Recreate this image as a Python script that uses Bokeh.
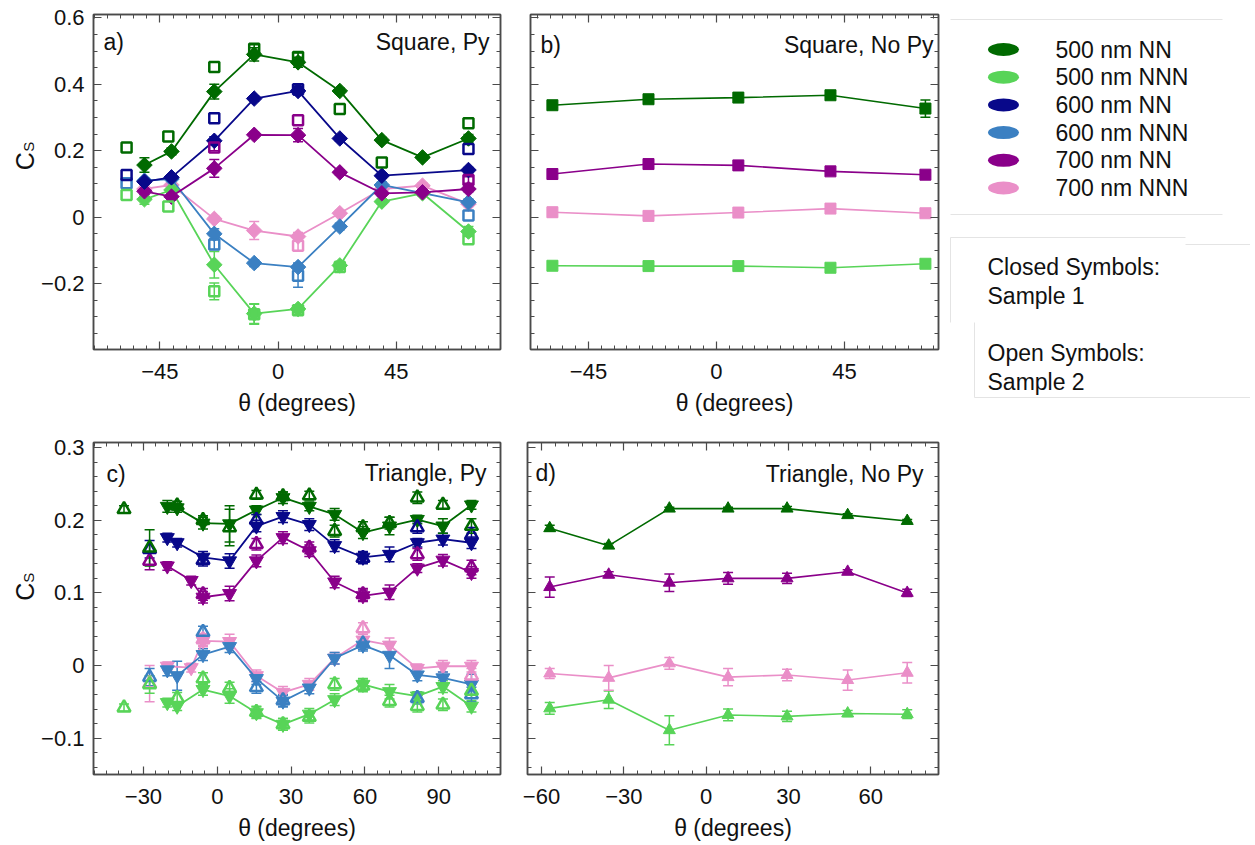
import numpy as np
from bokeh.plotting import figure
from bokeh.models import Range1d, FixedTicker, LinearAxis, Whisker, TeeHead, ColumnDataSource, Label
from bokeh.layouts import row, column
from bokeh.embed import file_html
from bokeh.resources import INLINE
from bokeh.core.properties import value

nan = float("nan")
FONT = "Liberation Sans"
AX = "#4a4a4a"
TXT = "#111111"

# ---------------- colours / legend ----------------
series_names = ["500 nm NN", "500 nm NNN", "600 nm NN", "600 nm NNN", "700 nm NN", "700 nm NNN"]
series_colors = ["#006a00", "#58d458", "#08088a", "#3b80c2", "#8a008a", "#ea8fc8"]
C500NN, C500NNN, C600NN, C600NNN, C700NN, C700NNN = series_colors

# ---------------- panel a : Square, Py ----------------
a_theta_s1 = [-50.9, -40.6, -24.3, -9.1, 7.6, 23.5, 39.5, 55.0, 72.5]
a_theta_s2 = [-57.7, -41.8, -24.3, -9.1, 7.6, 23.5, 39.5, 55.0, 72.5]
a_s1_500NN = [0.157, 0.198, 0.378, 0.490, 0.466, 0.380, 0.232, 0.180, 0.237]
a_s1_500NN_err = [0.022, 0.010, 0.022, 0.020, 0.015, 0.008, 0.008, 0.008, 0.012]
a_s1_500NNN = [0.054, 0.082, -0.143, -0.290, -0.276, -0.145, 0.047, 0.072, -0.043]
a_s1_500NNN_err = [0.015, 0.010, 0.040, 0.030, 0.010, 0.012, 0.008, 0.008, 0.015]
a_s1_600NN = [0.107, 0.120, 0.230, 0.357, 0.380, 0.237, 0.125, nan, 0.142]
a_s1_600NN_err = [0.008, 0.008, 0.012, 0.008, 0.012, 0.008, 0.008, nan, 0.008]
a_s1_600NNN = [0.110, 0.115, -0.050, -0.138, -0.150, -0.028, 0.097, nan, 0.045]
a_s1_600NNN_err = [0.008, 0.008, 0.015, 0.010, 0.012, 0.010, 0.010, nan, 0.010]
a_s1_700NN = [0.078, 0.062, 0.147, 0.248, 0.247, 0.135, 0.072, 0.075, 0.085]
a_s1_700NN_err = [0.010, 0.010, 0.027, 0.008, 0.020, 0.008, 0.008, 0.008, 0.008]
a_s1_700NNN = [0.085, 0.097, -0.005, -0.040, -0.058, 0.012, 0.085, 0.095, 0.040]
a_s1_700NNN_err = [0.008, 0.008, 0.008, 0.027, 0.012, 0.008, 0.008, 0.008, 0.008]

a_s2_500NN = [0.210, 0.243, 0.452, 0.507, 0.482, 0.326, 0.165, nan, 0.283]
a_s2_500NN_err = [nan, nan, nan, 0.012, 0.012, nan, nan, nan, nan]
a_s2_500NNN = [0.067, 0.032, -0.223, -0.292, -0.280, -0.150, nan, nan, -0.066]
a_s2_500NNN_err = [nan, nan, 0.025, 0.030, nan, nan, nan, nan, nan]
a_s2_600NN = [0.127, nan, 0.298, nan, 0.385, nan, nan, nan, 0.205]
a_s2_600NN_err = [nan, nan, nan, nan, 0.010, nan, nan, nan, nan]
a_s2_600NNN = [0.102, nan, -0.082, nan, -0.176, nan, nan, nan, 0.005]
a_s2_600NNN_err = [nan, nan, 0.015, nan, 0.035, nan, nan, nan, nan]
a_s2_700NN = [nan, nan, 0.210, nan, 0.292, nan, nan, nan, 0.112]
a_s2_700NN_err = [nan, nan, 0.010, nan, nan, nan, nan, nan, 0.010]
a_s2_700NNN = [nan, nan, nan, nan, -0.086, nan, nan, nan, nan]
a_s2_700NNN_err = [nan, nan, nan, nan, 0.015, nan, nan, nan, nan]

# ---------------- panel b : Square, No Py ----------------
b_theta = [-57.7, -23.9, 7.7, 40.1, 73.5]
b_500NN = [0.337, 0.355, 0.360, 0.367, 0.327]
b_500NN_err = [0.006, 0.012, 0.007, 0.006, 0.026]
b_700NN = [0.130, 0.160, 0.156, 0.138, 0.128]
b_700NN_err = [0.014, 0.012, 0.007, 0.008, 0.006]
b_700NNN = [0.015, 0.004, 0.014, 0.026, 0.012]
b_700NNN_err = [0.014, 0.008, 0.010, 0.010, 0.006]
b_500NNN = [-0.146, -0.147, -0.147, -0.152, -0.140]
b_500NNN_err = [0.006, 0.006, 0.006, 0.008, 0.012]

# ---------------- panel c : Triangle, Py ----------------
c_theta_s1 = [-20.3, -16.3, -5.8, 5.0, 15.9, 26.7, 37.4, 47.7, 59.2, 70.0, 81.3, 91.7, 103.3]
c_theta_s1_700 = [-20.3, -10.6, -5.8, 5.0, 15.9, 26.7, 37.4, 47.7, 59.2, 70.0, 81.3, 91.7, 103.3]
c_s1_500NN = [0.219, 0.217, 0.196, 0.195, 0.214, 0.231, 0.219, 0.208, 0.183, 0.192, 0.201, 0.192, 0.221]
c_s1_600NN = [0.176, 0.169, 0.149, 0.144, 0.192, 0.205, 0.194, 0.165, 0.149, 0.153, 0.169, 0.174, 0.169]
c_s1_700NN = [0.137, 0.117, 0.094, 0.099, 0.144, 0.176, 0.158, 0.115, 0.096, 0.101, 0.134, 0.145, 0.128]
c_s1_500NNN = [-0.051, -0.056, -0.033, -0.042, -0.065, -0.081, -0.067, -0.047, -0.026, -0.036, -0.042, -0.029, -0.056]
c_s1_600NNN = [-0.006, -0.014, 0.015, 0.026, -0.018, -0.049, -0.031, 0.010, 0.028, 0.014, -0.013, -0.017, -0.026]
c_s1_700NNN = [-0.001, -0.003, 0.034, 0.033, -0.014, -0.037, -0.026, 0.010, 0.035, 0.028, -0.004, -0.001, -0.001]
c_s1_err = [0.006, 0.006, 0.008, 0.010, 0.008, 0.008, 0.008, 0.008, 0.008, 0.010, 0.006, 0.008, 0.008]
c_s1_500NN_err = [0.008, 0.006, 0.008, 0.025, 0.006, 0.008, 0.006, 0.008, 0.008, 0.012, 0.006, 0.010, 0.006]
c_s1_600NNN_err = [0.008, 0.020, 0.008, 0.008, 0.008, 0.008, 0.008, 0.008, 0.008, 0.018, 0.008, 0.008, 0.014]

c_theta_s2 = [-37.9, -27.5, -16.3, -5.8, 5.0, 15.9, 26.7, 37.4, 47.7, 59.2, 70.0, 81.3, 91.7, 103.3]
c_s2_500NN = [0.215, 0.162, 0.220, 0.200, 0.190, 0.235, 0.233, 0.234, 0.185, 0.190, 0.196, 0.231, 0.221, 0.192]
c_s2_500NN_err = [0.005, 0.025, 0.006, 0.006, 0.025, 0.006, 0.006, 0.006, 0.008, 0.008, 0.008, 0.008, 0.006, 0.010]
c_s2_600NN = [nan, 0.160, nan, 0.145, nan, 0.200, nan, nan, nan, 0.148, nan, 0.190, nan, 0.180]
c_s2_700NN = [nan, 0.144, nan, 0.098, nan, 0.167, nan, 0.162, nan, 0.098, nan, 0.153, nan, 0.135]
c_s2_500NNN = [-0.058, -0.026, -0.045, -0.018, -0.031, -0.064, -0.081, -0.071, -0.026, -0.028, -0.049, -0.056, -0.054, -0.035]
c_s2_600NNN = [nan, -0.016, nan, 0.046, nan, -0.030, -0.048, nan, nan, 0.030, nan, -0.045, nan, -0.040]
c_s2_700NNN = [nan, -0.025, nan, 0.036, nan, nan, nan, nan, nan, 0.051, nan, nan, nan, -0.014]
c_s2_err = [0.005, 0.012, 0.008, 0.008, 0.008, 0.008, 0.008, 0.008, 0.008, 0.008, 0.008, 0.008, 0.008, 0.010]
c_s2_700NNN_err = [0.005, 0.025, 0.008, 0.008, 0.008, 0.008, 0.008, 0.008, 0.008, 0.008, 0.008, 0.008, 0.008, 0.010]

# ---------------- panel d : Triangle, No Py ----------------
d_theta = [-57.0, -35.5, -13.4, 8.0, 29.5, 51.6, 73.3]
d_500NN = [0.189, 0.165, 0.216, 0.216, 0.216, 0.207, 0.199]
d_500NN_err = [0.004, 0.003, 0.002, 0.002, 0.003, 0.002, 0.002]
d_700NN = [0.108, 0.125, 0.114, 0.120, 0.120, 0.129, 0.100]
d_700NN_err = [0.014, 0.004, 0.012, 0.008, 0.007, 0.003, 0.005]
d_700NNN = [-0.011, -0.017, 0.003, -0.016, -0.013, -0.020, -0.010]
d_700NNN_err = [0.007, 0.017, 0.008, 0.012, 0.008, 0.014, 0.014]
d_500NNN = [-0.059, -0.047, -0.089, -0.068, -0.070, -0.066, -0.067]
d_500NNN_err = [0.008, 0.012, 0.020, 0.008, 0.007, 0.004, 0.006]

# ---------------- axes ticks ----------------
a_xticks = [-45, 0, 45]
b_xticks = [-45, 0, 45]
c_xticks = [-30, 0, 30, 60, 90]
d_xticks = [-60, -30, 0, 30, 60]
top_yticks = [-0.4, -0.2, 0, 0.2, 0.4, 0.6]
bot_yticks = [-0.1, 0, 0.1, 0.2, 0.3]


def fmt(v):
    s = "%g" % v
    return s.replace("-", "\u2212")


def make_fig(width, height, xr, yr, xticks, xminor, yticks, yminor, borders, show_ylabels):
    l, r, t, b = borders
    p = figure(width=width, height=height, x_range=Range1d(*xr), y_range=Range1d(*yr),
               toolbar_location=None, output_backend="svg",
               min_border_left=l, min_border_right=r, min_border_top=t, min_border_bottom=b,
               x_axis_type=None, y_axis_type=None)
    p.grid.visible = False
    p.outline_line_color = AX
    p.outline_line_width = 1.5
    p.background_fill_color = "white"
    p.border_fill_color = "white"
    xt = FixedTicker(ticks=xticks, minor_ticks=xminor)
    yt = FixedTicker(ticks=yticks, minor_ticks=yminor)
    for loc, ticker, show, ticks in (("below", xt, True, xticks), ("above", xt, False, xticks),
                                     ("left", yt, show_ylabels, yticks), ("right", yt, False, yticks)):
        ax = LinearAxis(ticker=ticker)
        ax.major_tick_in = 8
        ax.major_tick_out = 0
        ax.minor_tick_in = 4
        ax.minor_tick_out = 0
        ax.axis_line_color = AX
        ax.axis_line_width = 1.5
        ax.major_tick_line_color = AX
        ax.minor_tick_line_color = AX
        ax.major_tick_line_width = 1.2
        ax.minor_tick_line_width = 1.0
        if show:
            ax.major_label_overrides = {float(v): fmt(v) for v in ticks}
            ax.major_label_text_font = FONT
            ax.major_label_text_font_size = "22px"
            ax.major_label_text_color = TXT
            ax.major_label_standoff = 9 if loc == "left" else 14
        else:
            ax.major_label_text_color = None
            ax.major_label_text_font_size = "1px"
            ax.major_label_standoff = 0
        if loc == "below":
            ax.axis_label = "\u03b8 (degrees)"
            ax.axis_label_text_font = FONT
            ax.axis_label_text_font_size = "23px"
            ax.axis_label_text_font_style = "normal"
            ax.axis_label_text_color = TXT
            ax.axis_label_standoff = 8
        p.add_layout(ax, loc)
    return p


def series(p, x, y, err, color, marker, size, filled, line=True, lw=1.8, angle=0.0, mlw=1.0):
    x = np.array(x, float)
    y = np.array(y, float)
    m = ~np.isnan(y)
    if line:
        p.line(x[m], y[m], line_color=color, line_width=lw)
    if err is not None:
        e = np.array(err, float)
        me = m & np.isfinite(e) & (e > 0)
        src = ColumnDataSource(dict(x=x[me], lo=y[me] - e[me], hi=y[me] + e[me]))
        w = Whisker(source=src, base="x", lower="lo", upper="hi", line_color=color, line_width=1.5,
                    upper_head=TeeHead(size=10, line_color=color, line_width=1.5),
                    lower_head=TeeHead(size=10, line_color=color, line_width=1.5))
        p.add_layout(w)
    fill = color if filled else None
    p.scatter(x[m], y[m], marker=marker, size=size, fill_color=fill, line_color=color,
              angle=angle, line_width=mlw)


def panel_text(p, fw, fh, left_txt, lx, ly, right_txt, rx, ry):
    p.add_layout(Label(x=lx, y=fh - ly, x_units="screen", y_units="screen", text=left_txt,
                       text_font=FONT, text_font_size="23px", text_color=TXT,
                       text_align="left", text_baseline="middle"))
    p.add_layout(Label(x=fw - rx, y=fh - ry, x_units="screen", y_units="screen", text=right_txt,
                       text_font=FONT, text_font_size="23px", text_color=TXT,
                       text_align="right", text_baseline="middle"))


def ylabel_fig(height, top, center):
    # narrow strip left of a panel carrying the rotated "C_S" axis title (page coordinates)
    f = figure(width=38, height=height, x_range=Range1d(0, 38), y_range=Range1d(-(top + height), -top),
               toolbar_location=None, output_backend="svg", min_border=0,
               x_axis_type=None, y_axis_type=None)
    f.grid.visible = False
    f.outline_line_color = None
    f.text(x=[24], y=[-center], text=["C"], angle=np.pi / 2, text_font=value(FONT),
           text_font_size="25px", text_color=TXT, text_align="center", text_baseline="middle")
    f.text(x=[27.5], y=[-(center - 18)], text=["S"], angle=np.pi / 2, text_font=value(FONT),
           text_font_size="15px", text_color=TXT, text_align="center", text_baseline="middle")
    return f


def mticks(a, b, s):
    return [float(v) for v in np.round(np.arange(a, b + s / 2, s), 4)]


# ---------------- panel a ----------------
pa = make_fig(477, 418, (-70.3, 84.7), (-0.398, 0.61), a_xticks, mticks(-70, 80, 5),
              top_yticks, mticks(-0.4, 0.6, 0.05), (54, 15, 14, 68), True)
DM = dict(marker="square", size=11, filled=True, angle=np.pi / 4)
series(pa, a_theta_s1, a_s1_700NNN, a_s1_700NNN_err, C700NNN, **DM)
series(pa, a_theta_s1, a_s1_600NNN, a_s1_600NNN_err, C600NNN, **DM)
series(pa, a_theta_s1, a_s1_500NNN, a_s1_500NNN_err, C500NNN, **DM)
series(pa, a_theta_s1, a_s1_700NN, a_s1_700NN_err, C700NN, **DM)
series(pa, a_theta_s1, a_s1_600NN, a_s1_600NN_err, C600NN, **DM)
series(pa, a_theta_s1, a_s1_500NN, a_s1_500NN_err, C500NN, **DM)
OM = dict(marker="square", size=10, filled=False, line=False, mlw=2.5)
series(pa, a_theta_s2, a_s2_700NNN, a_s2_700NNN_err, C700NNN, **OM)
series(pa, a_theta_s2, a_s2_600NNN, a_s2_600NNN_err, C600NNN, **OM)
series(pa, a_theta_s2, a_s2_500NNN, a_s2_500NNN_err, C500NNN, **OM)
series(pa, a_theta_s2, a_s2_700NN, a_s2_700NN_err, C700NN, **OM)
series(pa, a_theta_s2, a_s2_600NN, a_s2_600NN_err, C600NN, **OM)
series(pa, a_theta_s2, a_s2_500NN, a_s2_500NN_err, C500NN, **OM)
panel_text(pa, 408, 336, "a)", 10, 28, "Square, Py", 12, 28)
la = ylabel_fig(418, 0, 183)

# ---------------- panel b ----------------
pb = make_fig(429, 418, (-65.4, 78.1), (-0.398, 0.61), b_xticks, mticks(-63, 76.5, 4.5),
              top_yticks, mticks(-0.4, 0.6, 0.05), (15, 6, 14, 68), False)
SM = dict(marker="square", size=11, filled=True, lw=1.6)
series(pb, b_theta, b_500NNN, b_500NNN_err, C500NNN, **SM)
series(pb, b_theta, b_700NNN, b_700NNN_err, C700NNN, **SM)
series(pb, b_theta, b_700NN, b_700NN_err, C700NN, **SM)
series(pb, b_theta, b_500NN, b_500NN_err, C500NN, **SM)
panel_text(pb, 408, 336, "b)", 10, 31, "Square, No Py", 5, 31)

# ---------------- panel c ----------------
pc = make_fig(474, 425, (-50.3, 115.1), (-0.15, 0.307), c_xticks, mticks(-50, 115, 5),
              bot_yticks, mticks(-0.14, 0.3, 0.02), (54, 12, 24, 66), True)
TM = dict(marker="inverted_triangle", size=14, filled=True)
series(pc, c_theta_s1_700, c_s1_700NNN, c_s1_err, C700NNN, **TM)
series(pc, c_theta_s1, c_s1_600NNN, c_s1_600NNN_err, C600NNN, **TM)
series(pc, c_theta_s1, c_s1_500NNN, c_s1_err, C500NNN, **TM)
series(pc, c_theta_s1_700, c_s1_700NN, c_s1_err, C700NN, **TM)
series(pc, c_theta_s1, c_s1_600NN, c_s1_err, C600NN, **TM)
series(pc, c_theta_s1, c_s1_500NN, c_s1_500NN_err, C500NN, **TM)
UM = dict(marker="triangle", size=13, filled=False, line=False, mlw=2.5)
series(pc, c_theta_s2, c_s2_700NNN, c_s2_700NNN_err, C700NNN, **UM)
series(pc, c_theta_s2, c_s2_600NNN, c_s2_err, C600NNN, **UM)
series(pc, c_theta_s2, c_s2_500NNN, c_s2_err, C500NNN, **UM)
series(pc, c_theta_s2, c_s2_700NN, c_s2_err, C700NN, **UM)
series(pc, c_theta_s2, c_s2_600NN, c_s2_err, C600NN, **UM)
series(pc, c_theta_s2, c_s2_500NN, c_s2_500NN_err, C500NN, **UM)
panel_text(pc, 408, 335, "c)", 13, 34, "Triangle, Py", 15, 33)
lc = ylabel_fig(425, 418, 609)

# ---------------- panel d ----------------
pd = make_fig(432, 425, (-65.1, 84.7), (-0.15, 0.307), d_xticks, mticks(-65, 80, 5),
              bot_yticks, mticks(-0.14, 0.3, 0.02), (15, 6, 24, 66), False)
AM = dict(marker="triangle", size=12, filled=True, lw=1.6)
series(pd, d_theta, d_500NNN, d_500NNN_err, C500NNN, **AM)
series(pd, d_theta, d_700NNN, d_700NNN_err, C700NNN, **AM)
series(pd, d_theta, d_700NN, d_700NN_err, C700NN, **AM)
series(pd, d_theta, d_500NN, d_500NN_err, C500NN, **AM)
panel_text(pd, 411, 335, "d)", 8, 33, "Triangle, No Py", 15, 34)

# ---------------- legend figure ----------------
leg = figure(width=306, height=843, x_range=Range1d(944, 1250), y_range=Range1d(843, 0),
             toolbar_location=None, output_backend="svg", min_border=0,
             x_axis_type=None, y_axis_type=None)
leg.grid.visible = False
leg.outline_line_color = None
leg_y = [49 + 27.7 * i for i in range(len(series_names))]
leg.ellipse(x=[1003] * len(series_names), y=leg_y, width=31, height=13,
            fill_color=series_colors, line_color=None)
leg.text(x=[1055] * len(series_names), y=leg_y, text=series_names,
         text_font=value(FONT), text_font_size="23px", text_color=TXT, text_baseline="middle")
note_text = ["Closed Symbols:", "Sample 1", "Open Symbols:", "Sample 2"]
leg.text(x=[987, 987, 987, 987], y=[266, 295, 352, 381], text=note_text,
         text_font=value(FONT), text_font_size="23px", text_color=TXT, text_baseline="middle")
FL = "#e4e4e4"
leg.segment(x0=[950, 950, 950, 1185, 950, 974, 974], y0=[19, 214, 237, 244, 237, 322, 397],
            x1=[1222, 1222, 1185, 1250, 950, 974, 1250], y1=[19, 214, 237, 244, 322, 397, 397],
            line_color=FL, line_width=1)

layout = row(column(row(la, pa, pb), row(lc, pc, pd)), leg)
open("out.html", "w").write(file_html(layout, INLINE))
